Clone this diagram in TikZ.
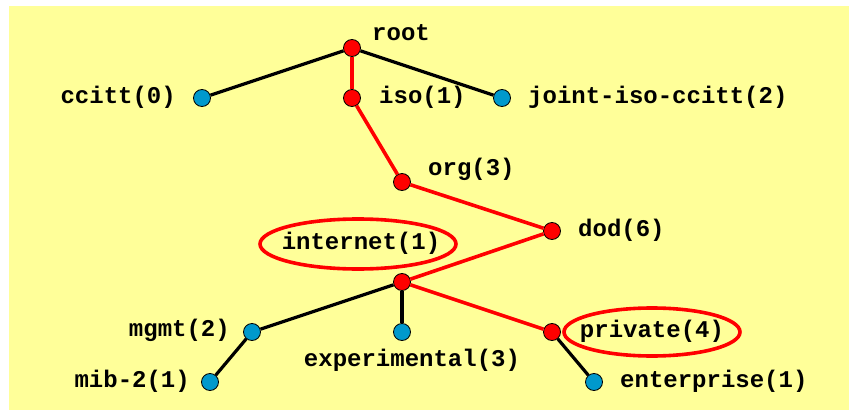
\documentclass[tikz,border=0pt]{standalone}
\usepackage{fontspec}
\setmonofont{Liberation Mono}
\definecolor{bgyellow}{RGB}{255,255,153}
\definecolor{nodeblue}{RGB}{0,153,204}
\definecolor{hired}{RGB}{255,0,0}
\tikzset{
  dot/.style={circle,draw=black,line width=0.8pt,minimum size=17pt,inner sep=0pt},
  reddot/.style={dot,fill=hired},
  bluedot/.style={dot,fill=nodeblue},
  lbl/.style={font=\ttfamily\bfseries\fontsize{24}{24}\selectfont,inner sep=0pt,text height=14pt,text depth=4pt},
  blackedge/.style={line width=3.2pt,black},
  rededge/.style={line width=3.6pt,hired},
  hilite/.style={draw=hired,line width=3.6pt}
}
\begin{document}
\begin{tikzpicture}[x=1pt,y=-1pt]
\useasboundingbox (0,0) rectangle (849,412);
\fill[white] (0,0) rectangle (849,412);
\fill[bgyellow] (9,6) rectangle (849,410);
% nodes
\node[reddot] (root) at (352,48) {};
\node[bluedot] (ccitt) at (202,98) {};
\node[reddot] (iso) at (352,98) {};
\node[bluedot] (joint) at (502,98) {};
\node[reddot] (org) at (402,182) {};
\node[reddot] (dod) at (552,231) {};
\node[reddot] (internet) at (402,282) {};
\node[bluedot] (mgmt) at (252,332) {};
\node[bluedot] (exper) at (402,332) {};
\node[reddot] (private) at (552,332) {};
\node[bluedot] (mib) at (210,382) {};
\node[bluedot] (enter) at (594,382) {};
% edges
\draw[blackedge] (root) -- (ccitt);
\draw[blackedge] (root) -- (joint);
\draw[blackedge] (internet) -- (mgmt);
\draw[blackedge] (internet) -- (exper);
\draw[blackedge] (mgmt) -- (mib);
\draw[blackedge] (private) -- (enter);
\draw[rededge] (root) -- (iso);
\draw[rededge] (iso) -- (org);
\draw[rededge] (org) -- (dod);
\draw[rededge] (dod) -- (internet);
\draw[rededge] (internet) -- (private);
% labels
\node[lbl,anchor=west] (lroot) at (372,36) {root};
\node[lbl,anchor=east] (lccitt) at (176,98) {ccitt(0)};
\node[lbl,anchor=west] (liso) at (379,98) {iso(1)};
\node[lbl,anchor=west] (ljoint) at (528,98) {joint-iso-ccitt(2)};
\node[lbl,anchor=west] (lorg) at (428,170) {org(3)};
\node[lbl,anchor=west] (ldod) at (578,231) {dod(6)};
\node[lbl] (linternet) at (361,244) {internet(1)};
\node[lbl,anchor=east] (lmgmt) at (230,331) {mgmt(2)};
\node[lbl] (lexper) at (412,361) {experimental(3)};
\node[lbl] (lprivate) at (652,332) {private(4)};
\node[lbl,anchor=east] (lmib) at (190,382) {mib-2(1)};
\node[lbl,anchor=west] (lenter) at (620,382) {enterprise(1)};
% highlight ellipses
\draw[hilite] (358,244) ellipse [x radius=98, y radius=25];
\draw[hilite] (652,332) ellipse [x radius=88, y radius=24];
\end{tikzpicture}
\end{document}
